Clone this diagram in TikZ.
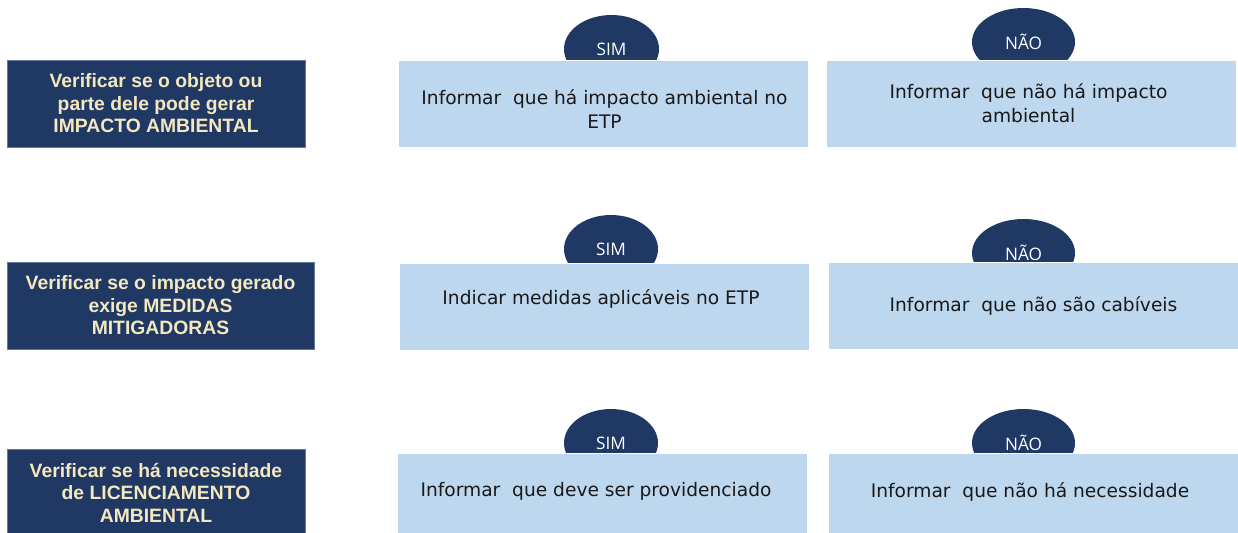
\documentclass[tikz,border=0pt]{standalone}
\usepackage{fontspec}
\setmainfont{DejaVu Sans}
\newfontfamily\verifont{Liberation Sans}
\newfontfamily\respfont{Open Sans}
\usetikzlibrary{shapes.geometric}
\definecolor{navyfill}{RGB}{31,56,100}
\definecolor{navyedge}{RGB}{100,120,160}
\definecolor{bluefill}{RGB}{189,215,238}
\definecolor{creamtext}{RGB}{245,232,190}
\definecolor{greytext}{RGB}{25,25,25}
\begin{document}
\begin{tikzpicture}[
    verifbox/.style={draw=navyedge, line width=0.3pt, fill=navyfill, inner sep=0pt,
      minimum height=1.74cm, text=creamtext, align=center,
      font=\verifont\bfseries\fontsize{11}{12.8}\selectfont},
    respbox/.style={draw=white, line width=0.3pt, fill=bluefill, inner sep=0pt,
      minimum width=8.2cm, minimum height=1.74cm},
    resptext/.style={text=greytext, align=center, inner sep=0pt,
      font=\fontsize{10.6}{13.6}\selectfont},
    answer/.style={ellipse, fill=navyfill, inner sep=0pt, minimum height=1.36cm,
      text=white, font=\respfont\fontsize{9.8}{11}\selectfont}
  ]
                    \useasboundingbox (0,0) rectangle (24.760000,-10.640000);

                    % Marking question impacto
                    \draw (3.120000,-2.070000) node [verifbox, minimum width=5.96cm] (qimpacto) {Verificar se o objeto ou\\parte dele pode gerar\\IMPACTO AMBIENTAL};%

                    % Marking question medidas
                    \draw (3.210000,-6.110000) node [verifbox, minimum width=6.14cm] (qmedidas) {Verificar se o impacto gerado\\exige MEDIDAS\\MITIGADORAS};%

                    % Marking question licenciamento
                    \draw (3.120000,-9.850000) node [verifbox, minimum width=5.96cm] (qlicenca) {Verificar se há necessidade\\de LICENCIAMENTO\\AMBIENTAL};%

                    % Marking answer ellipses (behind the boxes)
                    \draw (12.230000,-0.980000) node [answer, minimum width=1.90cm] (simimpacto) {SIM};%
                    \draw (20.470000,-0.840000) node [answer, minimum width=2.06cm] (naoimpacto) {NÃO};%
                    \draw (12.220000,-4.980000) node [answer, minimum width=1.88cm] (simmedidas) {SIM};%
                    \draw (20.470000,-5.060000) node [answer, minimum width=2.06cm] (naomedidas) {NÃO};%
                    \draw (12.220000,-8.860000) node [answer, minimum width=1.88cm] (simlicenca) {SIM};%
                    \draw (20.470000,-8.860000) node [answer, minimum width=2.06cm] (naolicenca) {NÃO};%

                    % Drawing answer boxes, row impacto
                    \draw (12.060000,-2.070000) node [respbox] (bsimimpacto) {};%
                    \draw (20.630000,-2.070000) node [respbox] (bnaoimpacto) {};%
                    \draw (12.090000,-2.180000) node [resptext] (tsimimpacto) {Informar~ que há impacto ambiental no\\ETP};%
                    \draw (20.570000,-2.070000) node [resptext] (tnaoimpacto) {Informar~ que não há impacto\\ambiental};%

                    % Drawing answer boxes, row medidas
                    \draw (12.090000,-6.130000) node [respbox] (bsimmedidas) {};%
                    \draw (20.660000,-6.110000) node [respbox] (bnaomedidas) {};%
                    \draw (12.020000,-5.970000) node [resptext] (tsimmedidas) {Indicar medidas aplicáveis no ETP};%
                    \draw (20.670000,-6.110000) node [resptext] (tnaomedidas) {Informar~ que não são cabíveis};%

                    % Drawing answer boxes, row licenciamento
                    \draw (12.050000,-9.930000) node [respbox] (bsimlicenca) {};%
                    \draw (20.660000,-9.930000) node [respbox] (bnaolicenca) {};%
                    \draw (11.920000,-9.830000) node [resptext] (tsimlicenca) {Informar~ que deve ser providenciado};%
                    \draw (20.600000,-9.830000) node [resptext] (tnaolicenca) {Informar~ que não há necessidade};%
\end{tikzpicture}
\end{document}
